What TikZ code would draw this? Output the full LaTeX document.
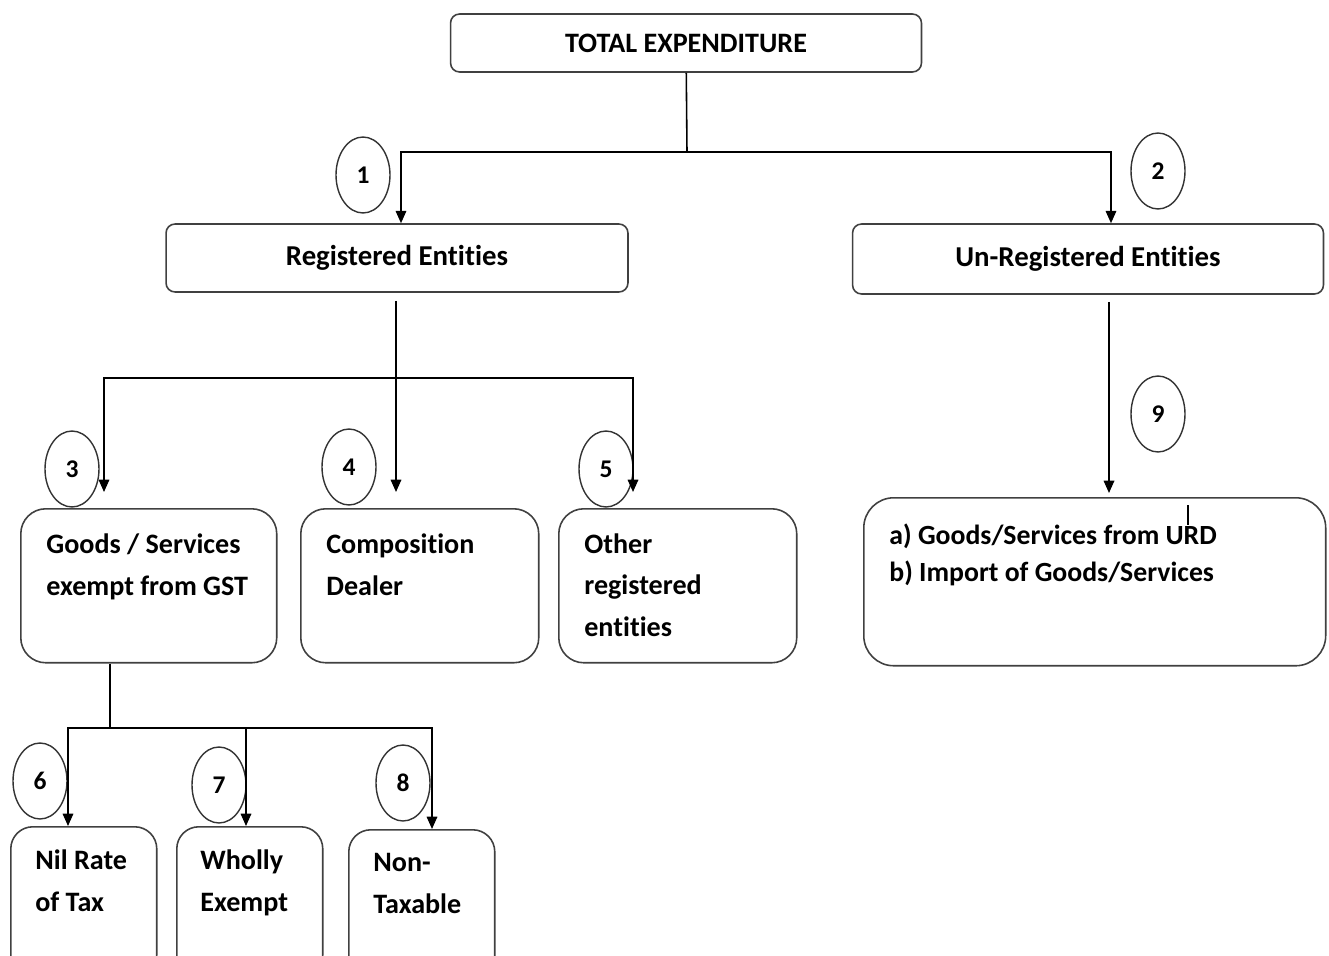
\documentclass[tikz,border=0pt]{standalone}
\usepackage{fontspec}
\setmainfont[Ligatures=NoCommon]{Carlito}
\usetikzlibrary{shapes.geometric,arrows.meta}

\begin{document}
\begin{tikzpicture}[
        x=0.02cm, y=-0.02cm,
        box/.style={rectangle, draw=black!75, line width=0.9pt, rounded corners=0.18cm, font=\fontsize{16.4}{19}\selectfont\bfseries},
        bigbox/.style={rectangle, draw=black!75, line width=0.9pt, rounded corners=0.5cm, anchor=north west},
        boxtext/.style={anchor=base west, inner sep=0pt, align=left, font=\fontsize{16}{23.6}\selectfont\bfseries},
        num/.style={ellipse, draw=black!80, line width=0.8pt, minimum width=1.08cm, minimum height=1.52cm, inner sep=0pt, font=\fontsize{14.5}{16}\selectfont\bfseries},
        link/.style={draw=black, line width=0.9pt},
        arrow/.style={link, -{Triangle[width=6pt,length=7pt]}}
    ]
        \clip (0,0) rectangle (1329,956);

        % Top level
        \node[box, font=\fontsize{16}{19}\selectfont\bfseries, minimum width=9.42cm, minimum height=1.16cm] (total) at (686,43) {TOTAL EXPENDITURE};

        % Entities
        \node[box, minimum width=9.24cm, minimum height=1.36cm] (reg) at (397,258) {Registered Entities};
        \node[box, minimum width=9.42cm, minimum height=1.40cm] (unreg) at (1088,259) {Un-Registered Entities};

        % Registered sub-types
        \node[bigbox, minimum width=5.12cm, minimum height=3.08cm] (exempt) at (20,508) {};
        \node[bigbox, minimum width=4.76cm, minimum height=3.08cm] (comp) at (300,508) {};
        \node[bigbox, minimum width=4.76cm, minimum height=3.08cm] (otherreg) at (558,508) {};
        \node[boxtext] (exempt_txt) at (46,595) {Goods / Services\\exempt from GST};
        \node[boxtext] (comp_txt) at (326,595) {Composition\\Dealer};
        \node[boxtext] (otherreg_txt) at (584,636) {Other\\registered\\entities};

        % Un-registered
        \node[bigbox, rounded corners=0.6cm, minimum width=9.24cm, minimum height=3.36cm] (urd) at (863,497) {};
        \node[boxtext, font=\fontsize{15.8}{20.5}\selectfont\bfseries] (urd_txt) at (889,581) {a) Goods/Services from URD\\b) Import of Goods/Services};
        \draw[line width=1.2pt] (1188,505) -- (1188,525);

        % Exempt sub-types
        \node[bigbox, rounded corners=0.44cm, minimum width=2.92cm, minimum height=3cm] (nilrate) at (10,826) {};
        \node[bigbox, rounded corners=0.44cm, minimum width=2.92cm, minimum height=3cm] (wholly) at (176,826) {};
        \node[bigbox, rounded corners=0.44cm, minimum width=2.92cm, minimum height=3cm] (nontax) at (348,829) {};
        \node[boxtext] (nilrate_txt) at (35,911) {Nil Rate\\of Tax};
        \node[boxtext] (wholly_txt) at (200,911) {Wholly\\Exempt};
        \node[boxtext] (nontax_txt) at (373,913) {Non-\\Taxable};

        % Numbers
        \node[num] (n1) at (363,175) {1};
        \node[num] (n2) at (1158,171) {2};
        \node[num] (n3) at (72,469) {3};
        \node[num] (n4) at (349,467) {4};
        \node[num] (n5) at (606,469) {5};
        \node[num] (n6) at (40,781) {6};
        \node[num] (n7) at (219,785) {7};
        \node[num] (n8) at (403,783) {8};
        \node[num] (n9) at (1158,414) {9};

        % Junctions and arrow ends
        \coordinate (j1) at (687,152);
        \coordinate (j2) at (396,378);
        \coordinate (j3) at (110,728);
        \coordinate (a3) at (104,492);
        \coordinate (a4) at (396,492);
        \coordinate (a5) at (633,492);
        \coordinate (u9) at (1109,302);
        \coordinate (a9) at (1109,493);
        \coordinate (a6) at (68,826);
        \coordinate (a7) at (246,826);
        \coordinate (a8) at (432,829);

        % Connections
        \draw[link] (total) -- (j1);
        \draw[arrow] (j1) -| (reg.north -| 401,0);
        \draw[arrow] (j1) -| ([xshift=0.46cm]unreg.north);

        \draw[link] ([yshift=-0.16cm]reg.south -| j2) -- (j2);
        \draw[arrow] (j2) -| (a3);
        \draw[arrow] (j2) -- (a4);
        \draw[arrow] (j2) -| (a5);

        \draw[arrow] (u9) -- (a9);

        \draw[link] (exempt.south -| j3) -- (j3);
        \draw[arrow] (j3) -| (a6);
        \draw[arrow] (j3) -| (a7);
        \draw[arrow] (j3) -| (a8);
    \end{tikzpicture}
\end{document}
